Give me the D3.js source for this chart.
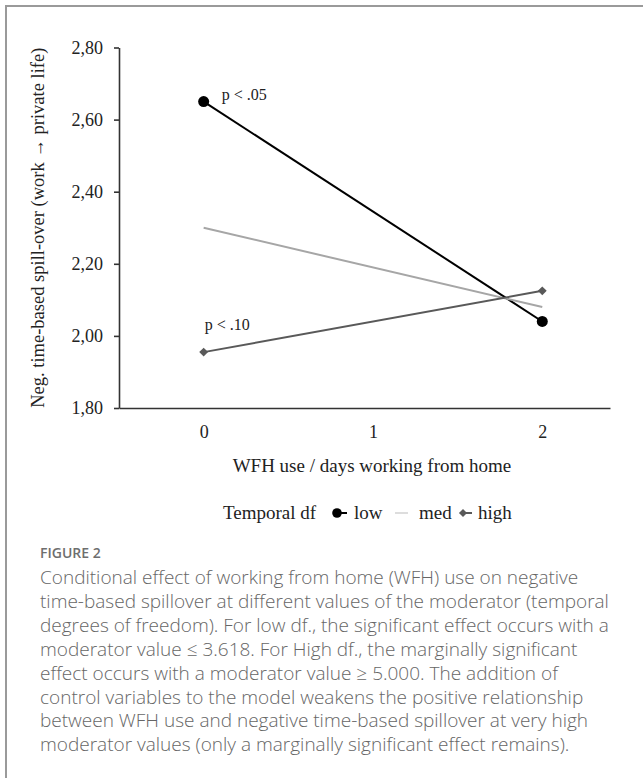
<!DOCTYPE html>
<html>
<head>
<meta charset="utf-8">
<script src="https://cdn.jsdelivr.net/npm/d3@7/dist/d3.min.js"></script>
<style>
  html, body { margin: 0; padding: 0; background: #fff; }
  svg { display: block; }
</style>
</head>
<body>
<svg id="fig" width="643" height="778"></svg>
<script>
// WFH use (days) on the x axis
const wfhDays = [0, 2];
const xTickValues = [0, 1, 2];
// Predicted negative time-based spillover per level of temporal degrees of freedom
const lowDf = [2.65, 2.04];
const medDf = [2.30, 2.08];
const highDf = [1.955, 2.125];
const yTickValues = [1.80, 2.00, 2.20, 2.40, 2.60, 2.80];
const seriesNames = ["low", "med", "high"];
const annotations = [
  { text: "p < .05", x: 0, y: 2.65 },
  { text: "p < .10", x: 0, y: 1.955 }
];
const captionTitle = "FIGURE 2";
const captionLines = [
  "Conditional effect of working from home (WFH) use on negative",
  "time-based spillover at different values of the moderator (temporal",
  "degrees of freedom). For low df., the significant effect occurs with a",
  "moderator value \u2264 3.618. For High df., the marginally significant",
  "effect occurs with a moderator value \u2265 5.000. The addition of",
  "control variables to the model weakens the positive relationship",
  "between WFH use and negative time-based spillover at very high",
  "moderator values (only a marginally significant effect remains)."
];

const svg = d3.select("#fig");
const serif = "'Liberation Serif', 'Times New Roman', serif";
const sans = "'Open Sans', 'Noto Sans', sans-serif";

// frame of the figure panel
svg.append("path")
  .attr("d", "M6,778 L6,6 L643,6")
  .attr("fill", "none")
  .attr("stroke", "#9a9a9a")
  .attr("stroke-width", 2);

const x = d3.scaleLinear().domain([-0.5, 2.4]).range([119, 610]);
const y = d3.scaleLinear().domain([1.8, 2.8]).range([408, 47.5]);

const fmt = d => d3.format(".2f")(d).replace(".", ",");

// y axis
const yAxis = svg.append("g")
  .attr("transform", `translate(${x(-0.5)},0)`)
  .call(d3.axisLeft(y).tickValues(yTickValues).tickFormat(fmt).tickSize(5).tickSizeOuter(0).tickPadding(11));
yAxis.select(".domain").attr("stroke", "#333").attr("stroke-width", 1.6);
yAxis.selectAll(".tick line").attr("stroke", "#333").attr("stroke-width", 1.6);
yAxis.selectAll(".tick text")
  .attr("font-family", serif).attr("font-size", 18).attr("fill", "#222");

// x axis (baseline only, labels below)
const xAxis = svg.append("g")
  .attr("transform", `translate(0,${y(1.8)})`)
  .call(d3.axisBottom(x).tickValues(xTickValues).tickFormat(d3.format("d")).tickSize(0).tickSizeOuter(0).tickPadding(17));
xAxis.select(".domain").attr("stroke", "#333").attr("stroke-width", 1.6);
xAxis.selectAll(".tick text")
  .attr("font-family", serif).attr("font-size", 18).attr("fill", "#222");

// axis titles
svg.append("text")
  .attr("x", x(1) - 1).attr("y", 472)
  .attr("text-anchor", "middle")
  .attr("font-family", serif).attr("font-size", 19).attr("fill", "#222")
  .text("WFH use / days working from home");

svg.append("text")
  .attr("transform", `translate(44,${(y(2.8) + y(1.8)) / 2}) rotate(-90)`)
  .attr("text-anchor", "middle")
  .attr("font-family", serif).attr("font-size", 18.5).attr("fill", "#222")
  .text("Neg. time-based spill-over (work \u2192 private life)");

// series
const series = [
  { name: seriesNames[0], values: lowDf, color: "#000", marker: "circle" },
  { name: seriesNames[1], values: medDf, color: "#a6a6a6", marker: null },
  { name: seriesNames[2], values: highDf, color: "#595959", marker: "diamond" }
];
const line = d3.line().x((d, i) => x(wfhDays[i])).y(d => y(d));

const circleSym = d3.symbol().type(d3.symbolCircle).size(Math.PI * 5.5 * 5.5);
const diamondSym = d3.symbol().type(d3.symbolDiamond2).size(50);

series.forEach(s => {
  svg.append("path")
    .datum(s.values)
    .attr("d", line)
    .attr("fill", "none")
    .attr("stroke", s.color)
    .attr("stroke-width", 2);
  if (s.marker) {
    svg.selectAll(null)
      .data(s.values)
      .enter().append("path")
      .attr("transform", (d, i) => `translate(${x(wfhDays[i])},${y(d)})`)
      .attr("d", s.marker === "circle" ? circleSym : diamondSym)
      .attr("fill", s.color);
  }
});

// significance notes
svg.selectAll(null)
  .data(annotations)
  .enter().append("text")
  .attr("x", (d, i) => x(d.x) + (i === 0 ? 18 : 1))
  .attr("y", (d, i) => y(d.y) + (i === 0 ? -2 : -22))
  .attr("font-family", serif).attr("font-size", 16).attr("fill", "#222")
  .text(d => d.text);

// legend
const lg = svg.append("g").attr("font-family", serif).attr("font-size", 19).attr("fill", "#222");
const ly = 519, lm = 513;
lg.append("text").attr("x", 223).attr("y", ly).text("Temporal df");
lg.append("line").attr("x1", 336).attr("x2", 347).attr("y1", lm).attr("y2", lm)
  .attr("stroke", series[0].color).attr("stroke-width", 2);
lg.append("path").attr("transform", `translate(337,${lm})`)
  .attr("d", d3.symbol().type(d3.symbolCircle).size(Math.PI * 4.8 * 4.8)).attr("fill", series[0].color);
lg.append("text").attr("x", 354).attr("y", ly).text(series[0].name);
lg.append("line").attr("x1", 395).attr("x2", 408).attr("y1", lm).attr("y2", lm)
  .attr("stroke", "#d2d2d2").attr("stroke-width", 1.5);
lg.append("text").attr("x", 419).attr("y", ly).text(series[1].name);
lg.append("line").attr("x1", 462).attr("x2", 472).attr("y1", lm).attr("y2", lm)
  .attr("stroke", series[2].color).attr("stroke-width", 2);
lg.append("path").attr("transform", `translate(463,${lm})`)
  .attr("d", d3.symbol().type(d3.symbolDiamond2).size(42)).attr("fill", series[2].color);
lg.append("text").attr("x", 478).attr("y", ly).text(series[2].name);

// caption
svg.append("text")
  .attr("x", 40).attr("y", 558)
  .attr("font-family", sans)
  .attr("font-size", 14).attr("font-weight", 600).attr("fill", "#6e6e6e")
  .text(captionTitle);

svg.append("g")
  .attr("font-family", sans)
  .attr("font-size", 19).attr("font-weight", 300).attr("fill", "#666")
  .selectAll("text")
  .data(captionLines)
  .enter().append("text")
  .attr("x", 40)
  .attr("y", (d, i) => 584 + i * 23.9)
  .text(d => d);
</script>
</body>
</html>
